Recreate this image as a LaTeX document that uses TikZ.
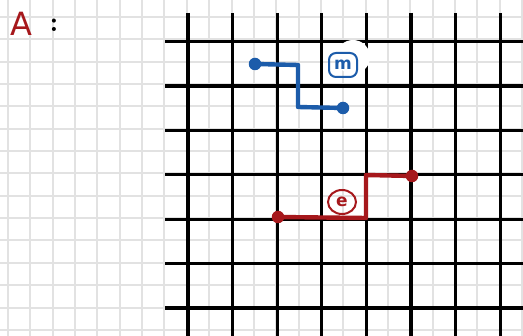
\documentclass[tikz,border=0pt]{standalone}
\usepackage{fontspec}
\usetikzlibrary{shapes.geometric}
\setsansfont{DejaVu Sans}
\definecolor{penblue}{RGB}{28,92,170}
\definecolor{penred}{RGB}{166,24,28}
\definecolor{lightgrid}{RGB}{226,226,226}
\tikzset{
  lightline/.style={draw=lightgrid,line width=2pt},
  boldline/.style={draw=black,line width=3.2pt},
  bluepath/.style={draw=penblue,line width=4.4pt,line join=round},
  redpath/.style={draw=penred,line width=4.4pt,line join=round},
  bluedot/.style={circle,fill=penblue,inner sep=0pt,minimum size=12.5pt},
  reddot/.style={circle,fill=penred,inner sep=0pt,minimum size=12.5pt},
}
\begin{document}
\begin{tikzpicture}[x=1pt,y=-1pt]
\useasboundingbox (0,0) rectangle (523,336);
\fill[white] (0,0) rectangle (523,336);
% light grid
\foreach \k in {0,...,23} {
  \draw[lightline] ({8+22.35*\k},0) -- ({8+22.35*\k},336);
}
\foreach \k in {0,...,15} {
  \draw[lightline] (0,{17+22.35*\k}) -- (523,{17+22.35*\k});
}
% bold grid
\foreach \k in {0,...,7} {
  \draw[boldline] ({188+44.6*\k},13) -- ({188+44.6*\k},336);
}
\foreach \k in {0,...,6} {
  \draw[boldline] (165,{41.7+44.4*\k}) -- (523,{41.7+44.4*\k});
}
% title
\node[text=penred,font=\sffamily\fontsize{32}{32}\selectfont] (title) at (21,24) {A};
\node[font=\bfseries\fontsize{28}{28}\selectfont] (colon) at (54,25) {:};
% blue path
\fill[white] (353,57) circle (17);
\node[bluedot] (b1) at (255,64) {};
\node[bluedot] (b2) at (343,108) {};
\coordinate (bc1) at (298,65);
\coordinate (bc2) at (298,107);
\draw[bluepath] (b1.center) -- (bc1) -- (bc2) -- (b2.center);
\node[draw=penblue,text=penblue,line width=2pt,rounded corners=7pt,inner sep=1pt,minimum width=28pt,minimum height=24pt,font=\sffamily\bfseries\fontsize{17}{17}\selectfont] (mlab) at (343,65) {m};
% red path
\node[reddot] (r1) at (278,217) {};
\node[reddot] (r2) at (412,176) {};
\coordinate (rc1) at (366,218);
\coordinate (rc2) at (366,175);
\draw[redpath] (r1.center) -- (rc1) -- (rc2) -- (r2.center);
\node[ellipse,draw=penred,text=penred,line width=2pt,inner sep=0pt,minimum width=28pt,minimum height=24pt,font=\sffamily\bfseries\fontsize{17}{17}\selectfont] (elab) at (342,202) {e};
\end{tikzpicture}
\end{document}
